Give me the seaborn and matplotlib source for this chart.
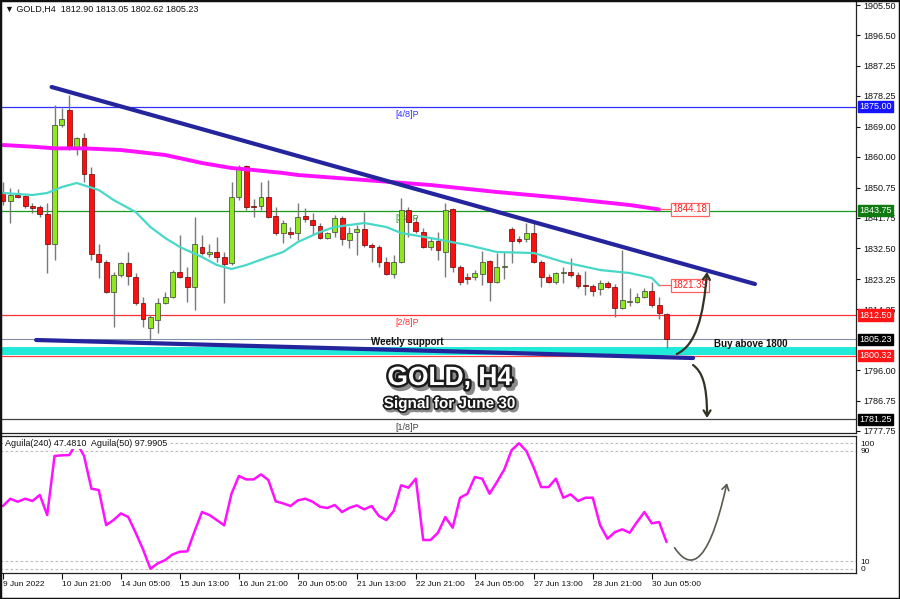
import matplotlib
matplotlib.use('Agg')
import matplotlib.pyplot as plt
import matplotlib.patheffects as pe
import matplotlib.transforms as mtransforms
from matplotlib.patches import FancyArrowPatch, Rectangle
from matplotlib.path import Path
import numpy as np
import pandas as pd
import seaborn as sns

# ---------------- data ----------------
opens = [1849.1, 1846.7, 1848.5, 1848.2, 1845.2, 1844.9, 1842.8, 1833.8, 1869.5, 1874.0,
         1862.6, 1865.6, 1854.8, 1830.8, 1828.4, 1819.4, 1824.5, 1828.1, 1823.9, 1816.1,
         1808.6, 1811.0, 1816.1, 1817.9, 1825.4, 1823.9, 1820.9, 1832.9, 1830.8, 1831.4,
         1829.9, 1828.1, 1847.9, 1857.2, 1845.2, 1845.2, 1847.9, 1842.2, 1837.1, 1837.4,
         1837.1, 1842.2, 1841.0, 1839.2, 1835.6, 1837.4, 1841.6, 1835.0, 1837.4, 1838.3,
         1833.5, 1832.9, 1828.4, 1824.8, 1828.4, 1844.0, 1840.4, 1837.4, 1832.9, 1834.7,
         1831.4, 1844.3, 1826.9, 1823.9, 1823.9, 1824.8, 1828.7, 1822.4, 1826.8, 1838.3,
         1835.3, 1835.3, 1837.1, 1828.4, 1823.9, 1822.4, 1825.0, 1825.4, 1824.5, 1821.3,
         1821.2, 1820.3, 1822.1, 1820.9, 1814.6, 1816.4, 1816.4, 1817.9, 1819.7, 1815.5,
         1812.90]
highs = [1852.4, 1850.6, 1850.3, 1848.5, 1846.1, 1845.5, 1846.1, 1875.5, 1874.6, 1878.5,
         1865.9, 1867.1, 1856.9, 1833.8, 1829.0, 1825.4, 1828.4, 1831.4, 1825.1, 1817.9,
         1812.5, 1817.6, 1819.4, 1826.0, 1836.5, 1826.9, 1841.9, 1836.5, 1833.8, 1835.9,
         1831.4, 1852.4, 1857.5, 1857.5, 1847.3, 1852.4, 1853.0, 1844.9, 1841.0, 1838.9,
         1846.1, 1844.6, 1843.1, 1840.1, 1837.4, 1842.5, 1842.2, 1838.9, 1839.5, 1843.4,
         1834.1, 1833.5, 1829.9, 1830.5, 1847.6, 1844.9, 1841.9, 1838.6, 1835.6, 1837.4,
         1846.1, 1844.6, 1827.5, 1825.1, 1826.0, 1831.7, 1829.0, 1831.1, 1831.4, 1838.9,
         1836.2, 1840.1, 1840.4, 1829.0, 1824.8, 1825.4, 1826.9, 1829.6, 1825.4, 1825.7,
         1821.8, 1823.0, 1822.7, 1821.8, 1832.0, 1820.6, 1819.1, 1820.6, 1822.4, 1817.9,
         1813.05]
lows = [1845.5, 1840.1, 1847.6, 1844.6, 1843.1, 1841.9, 1825.1, 1829.0, 1868.9, 1862.0,
        1860.5, 1852.4, 1829.0, 1823.6, 1819.1, 1808.9, 1823.9, 1821.5, 1815.5, 1808.9,
        1805.0, 1807.1, 1815.8, 1817.6, 1823.6, 1816.4, 1814.0, 1830.5, 1829.9, 1828.4,
        1816.1, 1827.5, 1847.0, 1844.0, 1841.9, 1844.0, 1841.6, 1836.5, 1834.1, 1835.6,
        1835.0, 1840.4, 1836.5, 1835.3, 1835.3, 1835.9, 1833.5, 1832.6, 1830.5, 1832.9,
        1828.4, 1826.9, 1824.5, 1823.6, 1828.1, 1835.9, 1837.1, 1832.6, 1832.0, 1829.0,
        1823.9, 1825.4, 1821.5, 1821.8, 1823.0, 1821.5, 1816.7, 1822.1, 1823.3, 1828.1,
        1834.1, 1834.4, 1828.1, 1820.9, 1822.1, 1821.8, 1822.1, 1823.9, 1820.6, 1818.5,
        1818.2, 1818.5, 1820.6, 1811.9, 1814.3, 1815.2, 1816.1, 1817.6, 1814.9, 1811.3,
        1802.62]
closes = [1846.7, 1848.5, 1847.9, 1845.2, 1844.6, 1842.8, 1833.8, 1869.5, 1871.3, 1862.6,
          1865.6, 1854.8, 1830.8, 1828.4, 1819.4, 1824.5, 1828.1, 1824.2, 1816.1, 1811.3,
          1811.9, 1816.1, 1817.9, 1825.4, 1823.9, 1820.9, 1833.8, 1831.1, 1831.4, 1829.9,
          1827.8, 1847.9, 1856.6, 1844.9, 1844.9, 1847.9, 1841.9, 1837.1, 1840.1, 1836.8,
          1841.9, 1841.3, 1839.5, 1835.6, 1837.1, 1841.6, 1835.3, 1837.1, 1838.3, 1833.5,
          1832.9, 1828.4, 1824.8, 1828.4, 1844.0, 1840.4, 1837.7, 1832.9, 1834.7, 1832.0,
          1844.0, 1826.9, 1822.4, 1823.3, 1825.1, 1828.4, 1822.4, 1826.9, 1827.0, 1834.7,
          1834.7, 1837.1, 1828.4, 1823.9, 1822.4, 1825.1, 1825.2, 1824.5, 1821.2, 1821.1,
          1819.7, 1822.1, 1820.9, 1814.6, 1817.0, 1816.7, 1817.9, 1819.7, 1815.5, 1813.1,
          1805.23]

ma_slow_x = [0, 4, 7, 11, 16, 22, 27, 31, 34, 38, 40, 49, 58, 67, 76, 85, 89]
ma_slow = [1863.5, 1863.0, 1862.5, 1862.5, 1862.0, 1860.5, 1858.1, 1856.6, 1856.0, 1855.1,
           1854.5, 1853.0, 1851.5, 1849.4, 1847.6, 1845.5, 1844.18]
ma_fast_x = [0, 4, 6, 8, 10, 13, 15, 18, 20, 22, 24, 27, 29, 31, 33, 36, 38, 40, 43, 45,
             49, 52, 54, 58, 63, 67, 72, 76, 81, 85, 88, 89]
ma_fast = [1849.1, 1848.5, 1849.1, 1850.9, 1852.1, 1850.0, 1847.0, 1843.4, 1838.9, 1835.6,
           1832.9, 1829.9, 1827.5, 1826.3, 1827.5, 1829.9, 1831.4, 1834.4, 1837.4, 1838.9,
           1840.1, 1838.9, 1837.1, 1835.6, 1833.5, 1831.4, 1831.1, 1828.4, 1826.0, 1825.1,
           1823.6, 1821.39]

aguila = [50.0, 55.8, 53.4, 55.8, 54.0, 58.8, 42.8, 89.9, 90.4, 90.6,
          100.5, 89.9, 63.8, 62.7, 34.8, 38.8, 44.1, 41.2, 28.7, 15.4,
          0.0, 4.3, 6.9, 11.4, 13.6, 13.8, 30.0, 45.2, 42.8, 38.8,
          34.6, 59.8, 73.9, 71.2, 71.2, 75.2, 70.7, 53.7, 52.1, 50.0,
          54.5, 55.8, 53.4, 49.4, 48.4, 50.8, 45.2, 48.6, 50.5, 47.3,
          50.0, 42.0, 38.8, 46.0, 66.5, 64.6, 71.8, 22.9, 22.9, 28.7,
          41.2, 32.7, 56.6, 59.8, 73.1, 71.8, 59.8, 69.1, 79.2, 94.6,
          100.0, 93.8, 80.5, 65.1, 65.1, 71.8, 56.6, 59.3, 54.0, 56.6,
          56.6, 34.6, 23.9, 29.2, 31.4, 28.7, 37.2, 45.2, 36.2, 37.2,
          21.3]

time_labels = ["9 Jun 2022", "10 Jun 21:00", "14 Jun 05:00", "15 Jun 13:00", "16 Jun 21:00",
               "20 Jun 05:00", "21 Jun 13:00", "22 Jun 21:00", "24 Jun 05:00", "27 Jun 13:00",
               "28 Jun 21:00", "30 Jun 05:00"]
price_ticks = [1905.50, 1896.50, 1887.25, 1878.25, 1869.00, 1860.00, 1850.75, 1841.75,
               1832.50, 1823.25, 1814.25, 1796.00, 1786.75, 1777.75]

murrey_levels = [1875.00, 1843.75, 1812.50, 1781.25]
murrey_names = ["[4/8]P", "[3/8]P", "[2/8]P", "[1/8]P"]
murrey_colors = ["#3030ff", "#1a9a1a", "#ff3030", "#404040"]

current_price = 1805.23
support_line = 1800.32
support_band = (1800.5, 1803.0)
trend_upper = ([6.6, 102.0], [1880.9, 1821.8])
trend_lower = ([4.5, 93.6], [1805.0, 1799.6])

ind_levels = [100, 94, 6, 0]
ind_level_labels = ["100", "90", "10", "0"]

# ---------------- figure ----------------
sns.set_theme(style='white')
plt.rcParams['font.family'] = ['Liberation Sans', 'DejaVu Sans']

fig = plt.figure(figsize=(9, 5.99), dpi=100)
fig.patch.set_facecolor('white')
ax = fig.add_axes([0.0, 0.2771, 0.9511, 0.7229])
axi = fig.add_axes([0.0, 0.0434, 0.9511, 0.2287], sharex=ax)

n = len(opens)
idx = np.arange(n)
o = np.array(opens); c = np.array(closes); h = np.array(highs); l = np.array(lows)
up = c >= o

# wicks
ax.vlines(idx, l, h, color='#7a7a7a', lw=1.0, zorder=3)
# bodies
body_bot = np.minimum(o, c)
body_h = np.maximum(np.abs(c - o), 0.35)
ax.bar(idx[up], body_h[up], bottom=body_bot[up], width=0.66, color='#8ee81e',
       edgecolor='#3c3c3c', linewidth=0.5, zorder=4)
ax.bar(idx[~up], body_h[~up], bottom=body_bot[~up], width=0.66, color='#ff1010',
       edgecolor='#6a0000', linewidth=0.5, zorder=4)

# moving averages (seaborn)
sns.lineplot(x=ma_slow_x, y=ma_slow, ax=ax, color='#ff10ff', lw=2.8, zorder=5)
sns.lineplot(x=ma_fast_x, y=ma_fast, ax=ax, color='#48d8c8', lw=1.6, zorder=5)

# murrey levels
for lev, name, col in zip(murrey_levels, murrey_names, murrey_colors):
    ax.axhline(lev, color=col, lw=0.9, zorder=2)
    ax.text(53.2, lev - 1.0, name, color=col, fontsize=6.5, ha='left', va='top', zorder=3)

# current price and support
ax.axhline(current_price, color='#8090a8', lw=0.8, zorder=2)
ax.axhspan(support_band[0], support_band[1], color='#22ead8', zorder=1, lw=0)
ax.axhline(support_line, color='#ff4040', lw=0.9, zorder=2)

# trend lines
ax.plot(*trend_upper, color='#24249c', lw=3.0, solid_capstyle='round', zorder=6)
ax.plot(*trend_lower, color='#24249c', lw=3.0, solid_capstyle='round', zorder=6)

# MA value boxes
for val in [ma_slow[-1], ma_fast[-1]]:
    ax.plot([89, 90.7], [val, val], color='#ff6060', lw=0.9, zorder=5)
    ax.text(90.8, val, f"{val:.2f}", color='#ff2020', fontsize=7, ha='left', va='center',
            zorder=7, bbox=dict(boxstyle='square,pad=0.15', fc='white', ec='#ff6060', lw=0.9))

# annotations
ax.text(54.8, 1804.4, "Weekly support", fontsize=7, fontweight='bold', ha='center',
        va='center', color='#111111', zorder=7)
ax.text(101.4, 1803.8, "Buy above 1800", fontsize=7, fontweight='bold', ha='center',
        va='center', color='#111111', zorder=7)
ax.text(60.6, 1793.6, "GOLD, H4", fontsize=19, fontweight='bold', ha='center', va='center',
        color='white', zorder=8,
        path_effects=[pe.Stroke(linewidth=4.5, foreground='#8a8a8a', offset=(2, -2)),
                      pe.Stroke(linewidth=3.5, foreground='#1a1a1a'), pe.Normal()])
ax.text(60.6, 1785.8, "Signal for June 30", fontsize=11, fontweight='bold', ha='center',
        va='center', color='white', zorder=8,
        path_effects=[pe.Stroke(linewidth=3.2, foreground='#8a8a8a', offset=(1.5, -1.5)),
                      pe.Stroke(linewidth=2.5, foreground='#1a1a1a'), pe.Normal()])

# curved arrows in price panel
up_path = Path([(91.4, 1800.8), (94.0, 1803.5), (95.0, 1812.0), (95.5, 1825.4)],
               [Path.MOVETO, Path.CURVE4, Path.CURVE4, Path.CURVE4])
dn_path = Path([(93.6, 1797.5), (94.8, 1795.5), (95.5, 1792.0), (95.5, 1781.6)],
               [Path.MOVETO, Path.CURVE4, Path.CURVE4, Path.CURVE4])
for p in (up_path, dn_path):
    ax.add_patch(FancyArrowPatch(path=p, arrowstyle='->,head_length=4,head_width=2.5',
                                 color='#333325', lw=1.6, zorder=8))

ax.set_xlim(-0.4, 115.7)
ax.set_ylim(1777.1, 1907.0)

# right price axis
ax.yaxis.tick_right()
ax.set_yticks(price_ticks)
ax.set_yticklabels([f"{t:.2f}" for t in price_ticks])
ax.tick_params(axis='y', right=True, left=False, labelsize=6.5, length=3, width=0.8,
               pad=2, colors='#111111')
ax.tick_params(axis='x', bottom=False, labelbottom=False)

trans = mtransforms.blended_transform_factory(ax.transAxes, ax.transData)
side_labels = [(1875.00, '#1515ff'), (1843.75, '#0f7a0f'), (1812.50, '#ff1515'),
               (1805.23, '#000000'), (1800.32, '#ff1515'), (1781.25, '#000000')]
for val, col in side_labels:
    ax.text(1.0035, val, f"{val:.2f}", transform=trans, color='white', fontsize=6.5,
            ha='left', va='center', zorder=9, clip_on=False,
            bbox=dict(boxstyle='square,pad=0.12', fc=col, ec=col))

ax.text(0.006, 0.988, "\u25bc GOLD,H4  1812.90 1813.05 1802.62 1805.23", transform=ax.transAxes,
        fontsize=6.5, ha='left', va='top', color='#111111')

for s in ['top', 'bottom', 'right', 'left']:
    ax.spines[s].set_color('#222222')
    ax.spines[s].set_linewidth(0.9)
ax.spines['left'].set_visible(False)

# ---------------- indicator panel ----------------
for lev in ind_levels:
    axi.axhline(lev, color='#bdbdbd', lw=0.8, ls=(0, (2.5, 2)), zorder=1)
sns.lineplot(x=idx, y=aguila, ax=axi, color='#ff10ff', lw=1.8, zorder=3)

ind_path = Path([(91.1, 16.7), (92.8, 2.0), (95.4, -6.0), (98.2, 68.3)],
                [Path.MOVETO, Path.CURVE4, Path.CURVE4, Path.CURVE4])
axi.add_patch(FancyArrowPatch(path=ind_path, arrowstyle='->,head_length=4,head_width=2.5',
                              color='#5a5a50', lw=1.2, zorder=4))

axi.set_ylim(-3.4, 105.8)
axi.yaxis.tick_right()
axi.set_yticks(ind_levels)
axi.set_yticklabels(ind_level_labels)
axi.tick_params(axis='y', right=True, left=False, labelsize=6, length=0, pad=3,
                colors='#111111')
axi.set_xticks(list(range(0, 89, 8)))
axi.set_xticklabels(time_labels, ha='left')
axi.tick_params(axis='x', bottom=True, labelsize=6, length=4, width=0.8, pad=2,
                colors='#111111', direction='out')
axi.set_xlabel('')
axi.set_ylabel('')
ax.set_xlabel('')
ax.set_ylabel('')
axi.text(0.006, 0.975, "Aguila(240) 47.4810  Aguila(50) 97.9905", transform=axi.transAxes,
         fontsize=6.5, ha='left', va='top', color='#111111',
         bbox=dict(boxstyle='square,pad=0.1', fc='white', ec='none'))
for s in ['top', 'bottom', 'right', 'left']:
    axi.spines[s].set_color('#222222')
    axi.spines[s].set_linewidth(0.9)
axi.spines['left'].set_visible(False)

fig.patches.append(Rectangle((0, 0), 1, 1, transform=fig.transFigure, fill=False,
                             ec='#111111', lw=2.5))

fig.savefig('out.png', dpi=100, facecolor='white')
